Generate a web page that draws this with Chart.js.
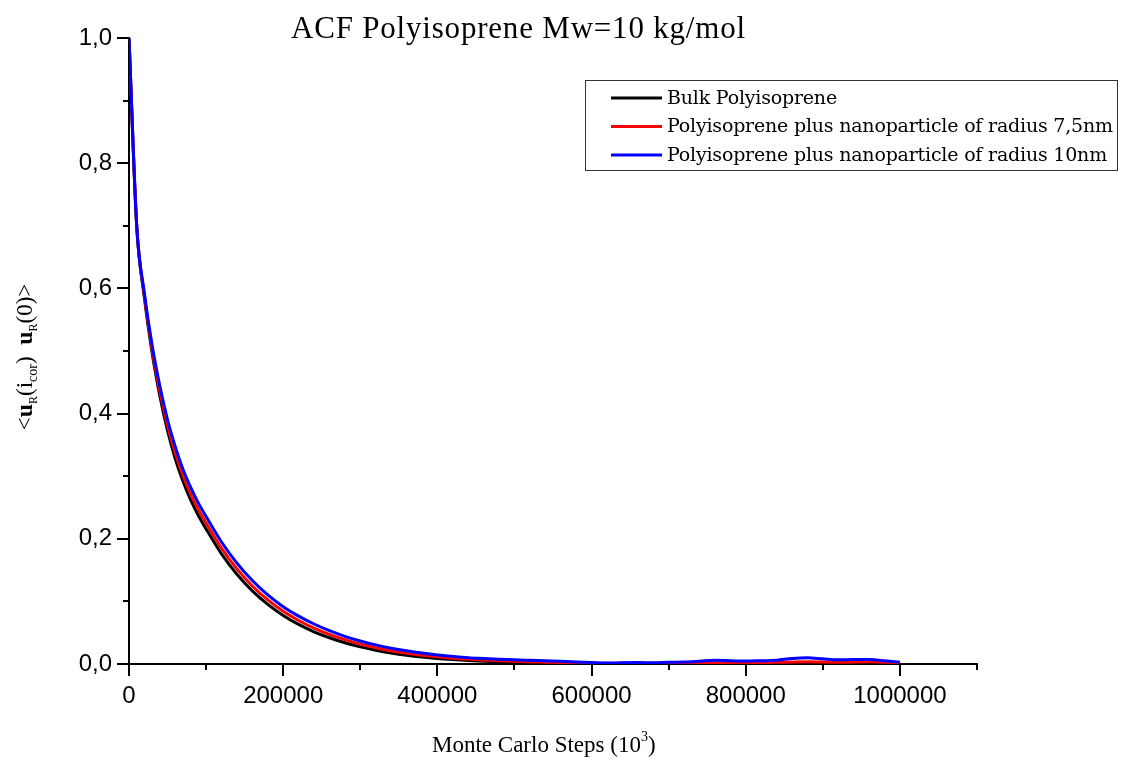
<!DOCTYPE html>
<html>
<head>
<meta charset="utf-8">
<script src="https://cdn.jsdelivr.net/npm/chart.js@4.4.1/dist/chart.umd.min.js"></script>
<style>
  html, body { margin: 0; padding: 0; background: #ffffff; }
  #wrap { width: 1129px; height: 765px; position: relative; }
</style>
</head>
<body>
<div id="wrap"><canvas id="c" width="1129" height="765"></canvas></div>
<script>
// ---- data ----
const chartTitle = "ACF Polyisoprene Mw=10 kg/mol";
const seriesLabels = ["Bulk Polyisoprene", "Polyisoprene plus nanoparticle of radius 7,5nm", "Polyisoprene plus nanoparticle of radius 10nm"];
const seriesColors = ["#000000", "#ff0000", "#0000ff"];
const steps = [0,10000,20000,30000,40000,50000,60000,70000,80000,90000,100000,
  120000,140000,160000,180000,200000,220000,240000,260000,280000,300000,
  320000,340000,360000,380000,400000,420000,440000,460000,480000,500000,
  520000,540000,560000,580000,600000,620000,640000,660000,680000,700000,
  720000,740000,760000,780000,800000,820000,840000,860000,880000,900000,
  920000,940000,960000,980000,1000000];
const bulk = [1.000,0.700,0.5845,0.4968,0.4283,0.3726,0.3279,0.2918,0.2621,0.2372,0.2158,
  0.1759,0.1433,0.1168,0.0952,0.0776,0.0632,0.0515,0.0419,0.0340,0.0274,
  0.0221,0.0177,0.0141,0.0112,0.0089,0.0071,0.0056,0.0045,0.0036,0.0028,
  0.0022,0.0017,0.0013,0.0010,0.0007,0.0005,0.0008,0.0006,0.0004,0.0007,
  0.0009,0.0006,0.0010,0.0008,0.0005,0.0009,0.0011,0.0014,0.0012,0.0010,
  0.0008,0.0011,0.0009,0.0007,0.0004];
const np75 = [1.000,0.700,0.588,0.502,0.4356,0.3808,0.3368,0.3011,0.2715,0.2467,0.2253,
  0.1850,0.1519,0.1247,0.1024,0.0842,0.0695,0.0574,0.0473,0.0389,0.0318,
  0.0261,0.0212,0.0172,0.0140,0.0114,0.0093,0.0076,0.0063,0.0052,0.0042,
  0.0035,0.0029,0.0023,0.0018,0.0014,0.0011,0.0014,0.0012,0.0011,0.0015,
  0.0018,0.0016,0.0021,0.0019,0.0017,0.0022,0.0026,0.0033,0.0037,0.0030,
  0.0027,0.0031,0.0034,0.0028,0.0020];
const np10 = [1.000,0.700,0.592,0.509,0.444,0.390,0.347,0.311,0.282,0.257,0.2357,
  0.1949,0.1612,0.1334,0.1104,0.0916,0.0765,0.0639,0.0532,0.0442,0.0367,
  0.0305,0.0253,0.0210,0.0174,0.0144,0.0121,0.0101,0.0088,0.0076,0.0066,
  0.0058,0.0050,0.0042,0.0033,0.0024,0.0015,0.0020,0.0022,0.0021,0.0028,
  0.0033,0.0045,0.0058,0.0052,0.0046,0.0052,0.0060,0.0088,0.0100,0.0082,
  0.0066,0.0073,0.0070,0.0052,0.0030];
const xMin = 0, xMax = 1100000, xStep = 100000;
const yMin = 0, yMax = 1.0, yStep = 0.1;

const allSeries = [bulk, np75, np10];
const toPts = arr => arr.map((v, i) => ({x: steps[i], y: v}));

const SERIF = '"Liberation Serif", "DejaVu Serif", serif';
const SERIF2 = '"DejaVu Serif", "Liberation Serif", serif';
const SANS = '"Liberation Sans", Arial, sans-serif';

function fitSpacing(ctx, text, target) {
  ctx.letterSpacing = '0px';
  const w = ctx.measureText(text).width;
  const sp = (target - w) / Math.max(1, text.length);
  ctx.letterSpacing = sp.toFixed(2) + 'px';
  return sp;
}

const decor = {
  id: 'decor',
  afterDraw(chart) {
    const ctx = chart.ctx;
    const xs = chart.scales.x, ys = chart.scales.y;
    const ca = chart.chartArea;
    ctx.save();
    // tick marks (major + minor)
    ctx.strokeStyle = '#000';
    ctx.lineWidth = 2;
    ctx.beginPath();
    for (let k = 0; k <= Math.round((xMax - xMin) / xStep); k++) {
      const px = Math.round(xs.getPixelForValue(xMin + k * xStep));
      ctx.moveTo(px, ca.bottom);
      ctx.lineTo(px, ca.bottom + (k % 2 === 0 ? 12 : 6));
    }
    for (let k = 0; k <= Math.round((yMax - yMin) / yStep); k++) {
      const py = Math.round(ys.getPixelForValue(yMin + k * yStep));
      ctx.moveTo(ca.left, py);
      ctx.lineTo(ca.left - (k % 2 === 0 ? 12 : 6), py);
    }
    ctx.stroke();

    // title
    ctx.fillStyle = '#000';
    ctx.font = '31px ' + SERIF;
    ctx.textAlign = 'left';
    ctx.textBaseline = 'alphabetic';
    fitSpacing(ctx, chartTitle, 455);
    ctx.fillText(chartTitle, 291, 38);
    ctx.letterSpacing = '0px';

    // x axis title with superscript
    const xt1 = 'Monte Carlo Steps (10', xt2 = '3', xt3 = ')';
    const fMain = '23px ' + SERIF, fSup = '14px ' + SERIF;
    ctx.font = fMain;
    const w1 = ctx.measureText(xt1).width, w3 = ctx.measureText(xt3).width;
    ctx.font = fSup; const w2 = ctx.measureText(xt2).width;
    let sx = 432;
    const by = 752;
    ctx.font = fMain; ctx.fillText(xt1, sx, by); sx += w1;
    ctx.font = fSup; ctx.fillText(xt2, sx, by - 11); sx += w2;
    ctx.font = fMain; ctx.fillText(xt3, sx, by);

    // y axis title (rotated) with bold u and subscripts
    const parts = [
      {t: '<', f: '23px ' + SERIF, dy: 0},
      {t: 'u', f: 'bold 24px ' + SERIF, dy: 0},
      {t: 'R', f: '12px ' + SERIF, dy: 5},
      {t: '(i', f: '23px ' + SERIF, dy: 0},
      {t: 'cor', f: '14px ' + SERIF, dy: 5},
      {t: ')  ', f: '23px ' + SERIF, dy: 0},
      {t: 'u', f: 'bold 24px ' + SERIF, dy: 0},
      {t: 'R', f: '12px ' + SERIF, dy: 5},
      {t: '(0)>', f: '23px ' + SERIF, dy: 0}
    ];
    let tw = 0;
    parts.forEach(p => { ctx.font = p.f; p.w = ctx.measureText(p.t).width; tw += p.w; });
    ctx.translate(32, 357);
    ctx.rotate(-Math.PI / 2);
    let cx = -tw / 2;
    parts.forEach(p => { ctx.font = p.f; ctx.fillText(p.t, cx, p.dy); cx += p.w; });
    ctx.setTransform(1, 0, 0, 1, 0, 0);

    // legend
    ctx.strokeStyle = '#333';
    ctx.lineWidth = 1;
    ctx.strokeRect(585.5, 80.5, 532, 90);
    ctx.font = '19px ' + SERIF2;
    const sp = fitSpacing(ctx, seriesLabels[1], 446);
    ctx.textBaseline = 'middle';
    const rows = [98, 126.5, 155];
    chart.data.datasets.forEach((ds, i) => {
      ctx.strokeStyle = ds.borderColor;
      ctx.lineWidth = 3;
      ctx.beginPath();
      ctx.moveTo(611, rows[i]);
      ctx.lineTo(662, rows[i]);
      ctx.stroke();
      ctx.fillStyle = '#000';
      ctx.fillText(ds.label, 667, rows[i] + 1);
    });
    ctx.restore();
  }
};

new Chart(document.getElementById('c'), {
  type: 'line',
  data: {
    datasets: allSeries.map((arr, i) => ({
      label: seriesLabels[i],
      data: toPts(arr),
      borderColor: seriesColors[i],
      backgroundColor: seriesColors[i],
      borderWidth: 3,
      pointRadius: 0,
      cubicInterpolationMode: 'monotone',
      fill: false,
      order: 2 - i
    }))
  },
  options: {
    responsive: false,
    animation: false,
    devicePixelRatio: 1,
    layout: { padding: { top: 38, right: 152, left: 0, bottom: 0 } },
    plugins: { legend: { display: false }, title: { display: false }, tooltip: { enabled: false } },
    scales: {
      x: {
        type: 'linear', min: xMin, max: xMax,
        grid: { display: false },
        border: { display: true, color: '#000', width: 2 },
        ticks: {
          stepSize: xStep, autoSkip: false, maxRotation: 0, padding: 10,
          color: '#000', font: { family: SANS, size: 24 },
          callback: v => (Math.round(v / xStep) % 2 === 0) ? String(v) : ''
        },
        afterFit: s => { s.height = 101; }
      },
      y: {
        type: 'linear', min: yMin, max: yMax,
        grid: { display: false },
        border: { display: true, color: '#000', width: 2 },
        ticks: {
          stepSize: yStep, autoSkip: false, padding: 9,
          color: '#000', font: { family: SANS, size: 24 },
          callback: v => (Math.round(v / yStep) % 2 === 0) ? v.toFixed(1).replace('.', ',') : ''
        },
        afterFit: s => { s.width = 129; }
      }
    }
  },
  plugins: [decor]
});
</script>
</body>
</html>
